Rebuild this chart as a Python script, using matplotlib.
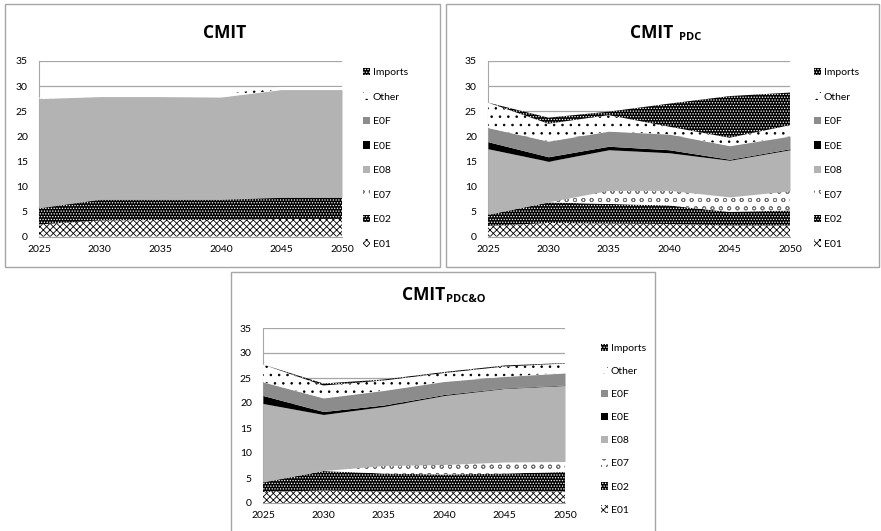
import matplotlib
matplotlib.use('Agg')
import matplotlib.pyplot as plt
from matplotlib.patches import Rectangle

plt.rcParams['font.family'] = ['Lato', 'DejaVu Sans']
plt.rcParams['hatch.linewidth'] = 0.6

W, H = 881, 531

years = [2025, 2030, 2035, 2040, 2045, 2050]
series_names = ["E01", "E02", "E07", "E08", "E0E", "E0F", "Other", "Imports"]
yticks = [0, 5, 10, 15, 20, 25, 30, 35]

# CMIT
cmit_e01 = [2.4, 3.2, 3.3, 3.3, 3.5, 3.5]
cmit_e02 = [3.3, 4.2, 4.1, 4.1, 4.3, 4.3]
cmit_e07 = [0, 0, 0, 0, 0, 0]
cmit_e08 = [21.8, 20.5, 20.5, 20.4, 21.5, 21.5]
cmit_e0e = [0, 0, 0, 0, 0, 0]
cmit_e0f = [0, 0, 0, 0, 0, 0]
cmit_other = [0.2, 0.5, 0.5, 0.5, 0.5, 0.5]
cmit_imports = [0, 0, 0, 0, 0, 0]

# CMIT PDC
pdc_e01 = [2.1, 2.7, 2.6, 2.5, 2.2, 2.2]
pdc_e02 = [2.3, 4.1, 3.9, 3.7, 2.7, 3.0]
pdc_e07 = [0, 0.1, 2.7, 3.0, 3.0, 3.9]
pdc_e08 = [13.1, 8.1, 8.1, 7.5, 7.3, 8.2]
pdc_e0e = [1.4, 0.9, 0.7, 0.6, 0.2, 0.2]
pdc_e0f = [2.8, 3.1, 3.0, 3.1, 2.7, 2.5]
pdc_other = [5.0, 3.5, 3.2, 1.5, 1.6, 2.2]
pdc_imports = [0, 1.2, 0.7, 4.6, 8.3, 6.5]

# CMIT PDC&O
pdco_e01 = [2.2, 2.5, 2.3, 2.3, 2.3, 2.3]
pdco_e02 = [2.0, 3.9, 3.6, 3.4, 3.6, 3.9]
pdco_e07 = [0, 0.1, 1.6, 2.0, 2.3, 2.1]
pdco_e08 = [15.7, 11.2, 11.8, 13.8, 14.7, 15.2]
pdco_e0e = [1.6, 0.6, 0.3, 0.2, 0.1, 0.1]
pdco_e0f = [2.7, 2.7, 2.9, 2.6, 2.3, 2.4]
pdco_other = [3.5, 2.5, 2.0, 1.7, 2.0, 1.9]
pdco_imports = [0, 0.4, 0.2, 0.2, 0.2, 0.1]

# face colour, hatch colour, hatch
styles = {
    "E01": ('white', 'black', 'xxxxx'),
    "E02": ('black', 'white', '......'),
    "E07": ('white', '#707070', 'oo'),
    "E08": ('#b3b3b3', '#b3b3b3', None),
    "E0E": ('black', 'black', None),
    "E0F": ('#8c8c8c', '#8c8c8c', None),
    "Other": ('white', 'black', '..'),
    "Imports": ('black', 'white', '......'),
}

FRAME = '#a6a6a6'
TITLE_FONT = ['Open Sans', 'DejaVu Sans']


def px_box(x0, y0, x1, y1):
    return [x0 / W, 1 - y1 / H, (x1 - x0) / W, (y1 - y0) / H]


def draw_panel(fig, data, frame, axbox, title, sub, title_x, title_y,
               sub_dx, sub_dy, leg_x, leg_top, leg_space):
    # panel border
    x0, y0, x1, y1 = frame
    fig.add_artist(Rectangle((x0 / W, 1 - y1 / H), (x1 - x0) / W, (y1 - y0) / H,
                             transform=fig.transFigure, fill=False,
                             edgecolor=FRAME, linewidth=1.0))

    ax = fig.add_axes(px_box(*axbox))
    polys = ax.stackplot(years, *data, colors=[styles[n][0] for n in series_names],
                         labels=series_names)
    for p, n in zip(polys, series_names):
        face, hcol, hatch = styles[n]
        p.set_edgecolor(hcol)
        p.set_linewidth(0)
        if hatch:
            p.set_hatch(hatch)

    ax.set_xlim(2025, 2050)
    ax.set_ylim(0, 35)
    ax.set_xticks(years)
    ax.set_yticks(yticks)
    ax.tick_params(length=0, labelsize=7.5)
    ax.tick_params(axis='y', pad=8)
    ax.tick_params(axis='x', pad=6)
    ax.yaxis.grid(True, color=FRAME, linewidth=0.9)
    ax.set_axisbelow(True)
    for s in ['top', 'right']:
        ax.spines[s].set_visible(False)
    for s in ['left', 'bottom']:
        ax.spines[s].set_color(FRAME)
        ax.spines[s].set_zorder(0.5)

    handles = polys[::-1]
    ax.legend(handles, series_names[::-1], loc='upper left',
              bbox_to_anchor=(leg_x / W, 1 - leg_top / H),
              bbox_transform=fig.transFigure, frameon=False, fontsize=7.5,
              borderpad=0, borderaxespad=0, handlelength=0.7, handleheight=0.7,
              handletextpad=0.25, labelspacing=leg_space)

    if sub:
        fig.text(title_x / W, 1 - title_y / H, title, ha='right', va='center',
                 fontsize=12.5, fontweight='bold', family=TITLE_FONT)
        fig.text((title_x + sub_dx) / W, 1 - (title_y + sub_dy) / H, sub,
                 ha='left', va='center', fontsize=8, fontweight='bold',
                 family=TITLE_FONT)
    else:
        fig.text(title_x / W, 1 - title_y / H, title, ha='center', va='center',
                 fontsize=12.5, fontweight='bold', family=TITLE_FONT)
    return ax


fig = plt.figure(figsize=(W / 100, H / 100), dpi=100)

draw_panel(fig, [cmit_e01, cmit_e02, cmit_e07, cmit_e08, cmit_e0e, cmit_e0f,
                 cmit_other, cmit_imports],
           (5, 4, 440, 267), (39, 61, 342, 236.5), "CMIT", None, 225, 33, 0, 0,
           363, 68, 1.46)
draw_panel(fig, [pdc_e01, pdc_e02, pdc_e07, pdc_e08, pdc_e0e, pdc_e0f,
                 pdc_other, pdc_imports],
           (446, 4, 879, 267), (488, 61, 790, 236.5), "CMIT", "PDC", 673, 33, 6, 5,
           814, 68, 1.46)
draw_panel(fig, [pdco_e01, pdco_e02, pdco_e07, pdco_e08, pdco_e0e, pdco_e0f,
                 pdco_other, pdco_imports],
           (231, 272, 655, 545), (263, 328, 565, 503), "CMIT", "PDC&O", 445, 295, 1, 5,
           601, 344, 1.32)

fig.savefig('out.png', dpi=100)
